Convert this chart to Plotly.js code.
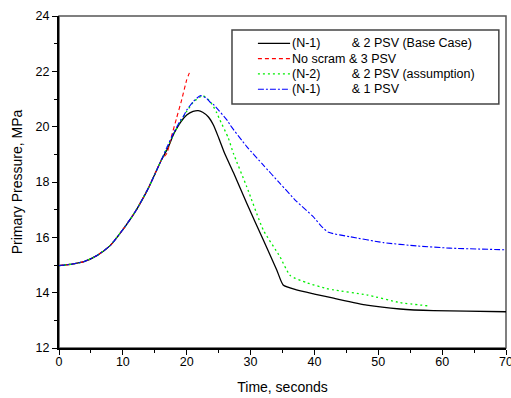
<!DOCTYPE html>
<html>
<head>
<meta charset="utf-8">
<script src="https://cdn.plot.ly/plotly-3.0.1.min.js"></script>
<style>html,body{margin:0;padding:0;background:#fff;}#chart{width:511px;height:398px;}</style>
</head>
<body>
<div id="chart"></div>
<script>
// Series names
const seriesNames = [
  "(N-1)\u00A0\u00A0\u00A0\u00A0\u00A0\u00A0\u00A0\u00A0\u00A0& 2 PSV (Base Case)",
  "No scram & 3 PSV",
  "(N-2)\u00A0\u00A0\u00A0\u00A0\u00A0\u00A0\u00A0\u00A0\u00A0& 2 PSV (assumption)",
  "(N-1)\u00A0\u00A0\u00A0\u00A0\u00A0\u00A0\u00A0\u00A0\u00A0& 1 PSV"
];

// Common rise (shared by all cases)
const tRise = [0, 2, 4, 6, 8, 10, 12, 14, 16];
const pRise = [14.98, 15.03, 15.13, 15.35, 15.70, 16.28, 16.95, 17.78, 18.78];

// (N-1) & 2 PSV (Base Case)
const tBase = [17, 18, 19, 20, 21, 21.8, 22.5, 23.4, 24.2, 25, 26, 27.3, 29.4, 32, 34.1, 35.1, 37.2, 40, 43, 48.2, 53.4, 58.6, 63.8, 70];
const pBase = [19.20, 19.75, 20.15, 20.42, 20.55, 20.58, 20.52, 20.35, 20.05, 19.60, 19.00, 18.35, 17.23, 15.90, 14.82, 14.28, 14.10, 13.95, 13.80, 13.55, 13.41, 13.35, 13.33, 13.31];

// No scram & 3 PSV
const tNoScram = [16.9, 17.6, 18.4, 19.2, 20.0, 20.6];
const pNoScram = [19.04, 19.64, 20.30, 20.96, 21.69, 22.05];

// (N-2) & 2 PSV (assumption)
const tN2 = [17, 18, 19, 20, 21, 22.5, 23.5, 24.2, 24.7, 25.2, 26.5, 27.3, 29.4, 32, 34.6, 36.2, 38.8, 41.9, 43, 48.2, 53.4, 58];
const pN2 = [19.28, 19.75, 20.18, 20.55, 20.88, 21.12, 20.95, 20.72, 20.50, 20.24, 19.60, 19.04, 17.83, 16.26, 15.30, 14.62, 14.36, 14.15, 14.10, 13.92, 13.64, 13.52];

// (N-1) & 1 PSV
const t1PSV = [17, 18, 19, 19.5, 20, 21, 22.1, 23, 23.6, 24.2, 26.5, 26.8, 29.4, 32, 34.6, 37.2, 39.8, 41.1, 42.2, 45.6, 50.8, 56, 61.2, 70];
const p1PSV = [19.30, 19.80, 20.22, 20.38, 20.60, 20.90, 21.12, 21.05, 20.90, 20.80, 20.18, 20.06, 19.28, 18.61, 17.95, 17.30, 16.75, 16.40, 16.18, 16.02, 15.81, 15.69, 15.61, 15.55];

const xTickVals = [0, 10, 20, 30, 40, 50, 60, 70];
const yTickVals = [12, 14, 16, 18, 20, 22, 24];

const lineStyles = [
  {color: "#000000", width: 1.3},
  {color: "#ff0000", width: 1.1, dash: "4px,3px"},
  {color: "#00ee00", width: 1.3, dash: "2px,3px"},
  {color: "#0000ff", width: 1.1, dash: "6px,2px,2px,2px"}
];
const tails = [[tBase, pBase], [tNoScram, pNoScram], [tN2, pN2], [t1PSV, p1PSV]];

const traces = tails.map((tp, i) => ({
  x: tRise.concat(tp[0]), y: pRise.concat(tp[1]), name: seriesNames[i], mode: "lines",
  line: Object.assign({shape: "spline", smoothing: 0.5}, lineStyles[i]), showlegend: false
}));

// Legend built from names and styles (paper coordinates)
const shapes = [
  {type: "rect", xref: "paper", yref: "paper", x0: 0, x1: 1, y0: 0, y1: 1,
   line: {color: "#555", width: 1.5}, fillcolor: "rgba(0,0,0,0)", layer: "below"},
  {type: "rect", xref: "paper", yref: "paper", x0: 0.387, x1: 0.984, y0: 0.735, y1: 0.958,
   line: {color: "#444", width: 1.5}, fillcolor: "rgba(0,0,0,0)", layer: "above"}
];
const annotations = [];
const legRowY = i => (348 - (43.3 + 15.3 * i)) / 332;
seriesNames.forEach((nm, i) => {
  const yy = legRowY(i);
  shapes.push({type: "line", xref: "paper", yref: "paper", x0: 0.445, x1: 0.517, y0: yy, y1: yy,
               line: {color: lineStyles[i].color, width: lineStyles[i].width, dash: lineStyles[i].dash || "solid"}, layer: "above"});
  annotations.push({xref: "paper", yref: "paper", x: 0.519, y: yy, xanchor: "left", yanchor: "middle",
                    text: nm, showarrow: false, font: {size: 12.5, color: "#000"}, borderpad: 0});
});

const layout = {
  width: 511, height: 398,
  margin: {l: 59, r: 5, t: 16, b: 50, pad: 0},
  paper_bgcolor: "#ffffff", plot_bgcolor: "#ffffff",
  font: {family: "Liberation Sans, Arial, sans-serif", size: 12, color: "#000"},
  showlegend: false,
  xaxis: {
    range: [0, 70], tickvals: xTickVals, ticks: "outside", ticklen: 5, tickwidth: 1, tickcolor: "#000",
    showline: true, linecolor: "#000", linewidth: 2, showgrid: false, zeroline: false,
    minor: {dtick: 5, ticks: "outside", ticklen: 3, tickcolor: "#000", showgrid: false},
    title: {text: "Time, seconds", font: {size: 14}, standoff: 14},
    tickfont: {size: 12.5}, ticklabeloverflow: "allow", ticklabelstandoff: -4, fixedrange: true
  },
  yaxis: {
    range: [12, 24], tickvals: yTickVals, ticks: "outside", ticklen: 5, tickwidth: 1, tickcolor: "#000",
    showline: true, linecolor: "#000", linewidth: 2, showgrid: false, zeroline: false,
    minor: {dtick: 1, ticks: "outside", ticklen: 3, tickcolor: "#000", showgrid: false},
    title: {text: "Primary Pressure, MPa", font: {size: 14}, standoff: 10},
    tickfont: {size: 12.5}, fixedrange: true
  },
  shapes: shapes,
  annotations: annotations
};

Plotly.newPlot("chart", traces, layout, {staticPlot: true, displayModeBar: false});
</script>
</body>
</html>
